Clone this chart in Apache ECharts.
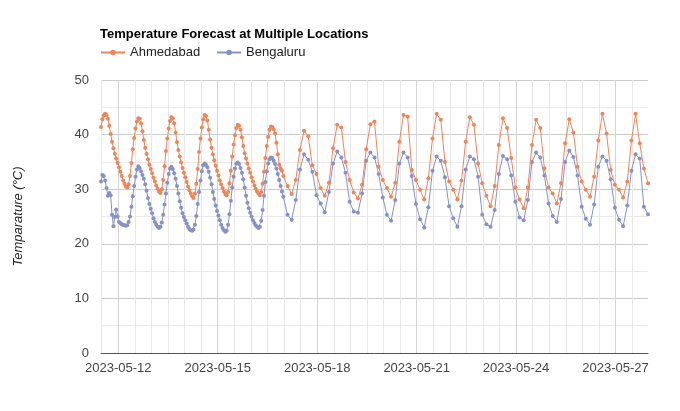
<!DOCTYPE html>
<html><head><meta charset="utf-8">
<script src="https://cdn.jsdelivr.net/npm/echarts@6/dist/echarts.min.js"></script>
<style>html,body{margin:0;padding:0;background:#fff}#c{width:680px;height:411px}</style>
</head><body><div id="c"></div>
<script>
// ---- data (times are local IST, handled as naive timestamps) ----
const seriesNames = ['Ahmedabad', 'Bengaluru'];
const hourlyStart = '2023-05-11T11:30';
const hourlyStepHours = 1;
const ahmedabadHourly = [
  41.4, 42.8, 43.5, 43.8, 43.6, 42.9, 41.6, 40.1, 38.7, 37.5, 36.5, 35.6, 34.8,
  34.0, 33.2, 32.4, 31.6, 31.0, 30.5, 30.3, 30.9, 32.4, 34.8, 37.3, 39.4, 41.1, 42.4, 43.0, 42.9, 42.1, 40.6, 39.0, 37.6, 36.5, 35.5, 34.5, 33.7,
  32.9, 32.1, 31.4, 30.7, 30.1, 29.6, 29.3, 30.0, 31.7, 34.2, 37.0, 39.3, 41.1, 42.5, 43.2, 43.0, 42.1, 40.4, 38.6, 37.2, 36.0, 34.9, 33.9, 33.0,
  32.2, 31.3, 30.5, 29.8, 29.2, 28.7, 28.4, 29.2, 31.0, 33.7, 36.8, 39.3, 41.3, 42.8, 43.6, 43.4, 42.6, 40.9, 39.1, 37.6, 36.4, 35.3, 34.3, 33.4,
  32.5, 31.6, 30.9, 30.2, 29.6, 29.1, 28.9, 29.5, 31.1, 33.4, 36.0, 38.2, 39.9, 41.2, 41.8, 41.6, 40.9, 39.5, 37.9, 36.6, 35.6, 34.7, 33.8, 33.0,
  32.2, 31.4, 30.7, 30.1, 29.6, 29.2, 28.9, 29.5, 31.0, 33.2, 35.7, 37.9, 39.6, 40.9, 41.5, 41.4, 41.0, 40.2, 38.5, 36.4, 34.5, 33.8, 33.4, 32.4
];
const bengaluruHourly = [
  31.4, 32.6, 32.4, 31.6, 30.2, 28.8, 29.3, 28.9, 25.3, 23.2, 24.9, 26.3, 25.0,
  24.0, 23.8, 23.6, 23.5, 23.4, 23.3, 23.4, 24.0, 25.0, 26.8, 28.7, 30.6, 32.3, 33.6, 34.2, 33.9, 33.3, 32.6, 31.9, 30.9, 29.7, 28.4, 27.3, 26.4,
  25.6, 24.7, 24.0, 23.5, 23.1, 22.9, 23.1, 23.9, 25.3, 27.2, 29.2, 31.2, 32.8, 33.8, 34.1, 33.7, 32.9, 31.9, 30.6, 29.2, 27.8, 26.6, 25.6, 24.9,
  24.3, 23.7, 23.1, 22.7, 22.5, 22.4, 22.6, 23.5, 25.1, 27.3, 29.5, 31.6, 33.3, 34.4, 34.7, 34.5, 34.0, 33.2, 32.1, 30.9, 29.5, 28.2, 27.0, 26.0,
  25.2, 24.3, 23.5, 22.9, 22.5, 22.2, 22.4, 23.5, 25.4, 27.9, 30.3, 32.3, 33.8, 34.7, 34.9, 34.6, 33.9, 33.0, 31.8, 30.3, 28.8, 27.5, 26.5, 25.7,
  25.0, 24.3, 23.8, 23.4, 23.1, 22.9, 23.1, 24.2, 26.2, 28.8, 31.3, 33.3, 34.7, 35.5, 35.8, 35.7, 35.2, 34.6, 33.8, 32.8, 31.7, 30.6, 29.6, 28.6
];
const threeHourlyStart = '2023-05-17T02:30';
const threeHourlyStepHours = 3;
const ahmedabad3h = [
  30.6, 29.1, 31.7, 37.2, 40.7, 39.7, 34.4, 32.8,
  30.2, 28.8, 31.2, 37.5, 41.8, 41.3, 35.0, 31.7,
  29.4, 28.3, 30.8, 37.3, 41.9, 42.4, 34.1, 31.7,
  30.2, 28.6, 31.2, 38.7, 43.6, 43.3, 33.5, 31.7,
  29.9, 28.1, 32.0, 39.3, 43.8, 42.7, 35.0, 31.4,
  29.9, 28.1, 31.6, 38.7, 43.2, 41.8, 34.7, 31.1,
  28.8, 26.9, 30.6, 38.1, 43.0, 41.2, 35.7, 30.3,
  28.1, 26.5, 30.3, 38.1, 42.7, 41.2, 33.8, 30.3,
  29.2, 27.4, 31.1, 38.4, 42.8, 40.4, 34.1, 31.4,
  29.9, 28.6, 32.3, 38.9, 43.8, 40.2, 33.5, 30.8,
  29.9, 28.5, 31.4, 38.9, 43.8, 38.4, 33.8, 31.1
];
const bengaluru3h = [
  25.3, 24.4, 28.0, 33.6, 36.4, 35.4, 33.2, 28.9,
  27.4, 25.8, 29.5, 34.7, 36.9, 35.8, 33.0, 27.7,
  25.9, 25.7, 29.2, 35.2, 36.7, 35.8, 32.8, 28.5,
  25.3, 24.2, 28.0, 34.7, 36.7, 35.8, 32.4, 27.3,
  24.5, 23.0, 26.7, 33.4, 36.0, 35.2, 32.2, 26.9,
  24.7, 23.1, 26.9, 33.6, 36.0, 35.5, 32.3, 25.3,
  23.6, 23.1, 26.2, 32.8, 36.1, 35.5, 32.5, 27.7,
  24.8, 24.3, 28.0, 35.0, 36.7, 35.8, 32.5, 27.4,
  25.1, 24.0, 28.2, 35.0, 37.1, 35.9, 32.5, 26.8,
  24.6, 23.5, 27.2, 34.1, 36.0, 35.2, 31.8, 26.6,
  24.4, 23.2, 27.0, 33.4, 36.4, 35.6, 26.8, 25.4
];
const xTickLabels = ['2023-05-12', '2023-05-15', '2023-05-18', '2023-05-21', '2023-05-24', '2023-05-27'];
const yTicks = [0, 10, 20, 30, 40, 50];

// ---- build ----
const HOUR = 3600 * 1000;
const toMs = s => Date.parse(s + ':00Z');
function pairs(start, stepH, vals) {
  const t0 = toMs(start);
  return vals.map((v, i) => [t0 + i * stepH * HOUR, v]);
}
const ahmData = pairs(hourlyStart, hourlyStepHours, ahmedabadHourly).concat(pairs(threeHourlyStart, threeHourlyStepHours, ahmedabad3h));
const benData = pairs(hourlyStart, hourlyStepHours, bengaluruHourly).concat(pairs(threeHourlyStart, threeHourlyStepHours, bengaluru3h));
const xMin = ahmData[0][0];
const xMax = ahmData[ahmData.length - 1][0];
const labelVals = xTickLabels.map(d => toMs(d + 'T00:00'));
// minor gridline positions: every 12 hours
const halfDayLines = [];
for (let t = toMs('2023-05-11T12:00'); t <= xMax; t += 12 * HOUR) {
  if (labelVals.indexOf(t) < 0) halfDayLines.push(t);
}
const fmtDate = v => new Date(v).toISOString().slice(0, 10);

const colors = ['#ef8558', '#8591cb'];
const font = 'Arial, "Liberation Sans", sans-serif';

const chart = echarts.init(document.getElementById('c'), null, { renderer: 'canvas' });
chart.setOption({
  animation: false,
  color: colors,
  textStyle: { fontFamily: font },
  title: {
    text: 'Temperature Forecast at Multiple Locations',
    left: 100, top: 28, padding: 0,
    textStyle: { fontSize: 13, fontWeight: 'bold', color: '#000', fontFamily: font }
  },
  legend: {
    left: 100, top: 46, padding: 0,
    itemWidth: 24, itemHeight: 7, itemGap: 16,
    textStyle: { fontSize: 13, color: '#222', fontFamily: font },
    data: seriesNames
  },
  grid: { left: 101, right: 32, top: 80, bottom: 58 },
  xAxis: [{
    type: 'value', min: xMin, max: xMax,
    axisLine: { show: true, onZero: false, lineStyle: { color: '#555', width: 1 } },
    axisTick: { show: false, customValues: labelVals },
    axisLabel: { customValues: labelVals, formatter: fmtDate, color: '#444', fontSize: 13, margin: 9, fontFamily: font },
    splitLine: { show: true, lineStyle: { color: '#d4d4d4', width: 1 } },
    z: 2
  }, {
    type: 'value', min: xMin, max: xMax, position: 'top',
    axisLine: { show: false },
    axisTick: { show: false, customValues: halfDayLines },
    axisLabel: { show: false },
    splitLine: { show: true, lineStyle: { color: '#e8e8e8', width: 1 } },
    z: 1
  }],
  yAxis: {
    type: 'value', min: yTicks[0], max: yTicks[yTicks.length - 1], interval: 10,
    name: 'Temparature (°C)', nameLocation: 'middle', nameGap: 76,
    nameTextStyle: { fontStyle: 'italic', fontSize: 13, color: '#222', fontFamily: font },
    axisLine: { show: false }, axisTick: { show: false },
    axisLabel: { color: '#444', fontSize: 13, margin: 12, fontFamily: font },
    splitLine: { lineStyle: { color: '#cccccc' } },
    minorTick: { show: false, splitNumber: 2 },
    minorSplitLine: { show: true, lineStyle: { color: '#ebebeb' } }
  },
  series: [
    { name: seriesNames[0], type: 'line', data: ahmData, xAxisIndex: 0, symbol: 'circle', symbolSize: 4, showSymbol: true,
      lineStyle: { width: 1 }, itemStyle: { color: colors[0] }, z: 3 },
    { name: seriesNames[1], type: 'line', data: benData, xAxisIndex: 0, symbol: 'circle', symbolSize: 4, showSymbol: true,
      lineStyle: { width: 1 }, itemStyle: { color: colors[1] }, z: 2 }
  ]
});
</script></body></html>
